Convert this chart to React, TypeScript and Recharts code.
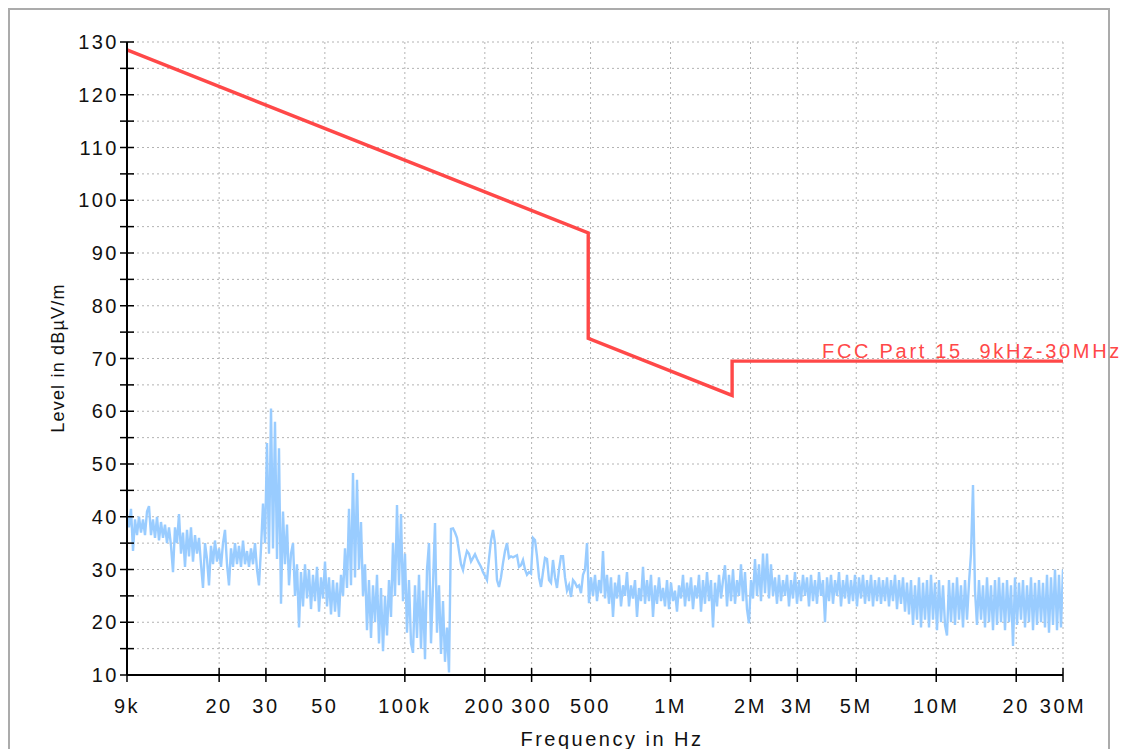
import React from "react";
import { LineChart, Line, XAxis, YAxis, CartesianGrid } from "recharts";

// Receiver sweep, 9 kHz .. 30 MHz, log-spaced steps
const sweepStart = 9000;
const sweepStop = 30000000;

// Measured level in dBµV/m, one reading per sweep step
const levels = [
  40.5, 38, 41.5, 33.5, 39.5, 36.5, 40, 37, 39.5, 36.5, 41, 42, 36.5, 39.5, 36, 40, 35.5, 39, 36, 38.5,
  35, 38, 34.5, 29.5, 38, 35, 40.5, 33, 37, 30.5, 37.5, 32.5, 38, 31.5, 36.5, 33, 36, 31, 26.5, 35,
  32, 27, 34.5, 31, 35.5, 31.5, 34, 30.5, 35, 37.5, 31, 27, 34, 30.5, 35, 31, 34.5, 30.5, 35.5, 31,
  33.5, 30.5, 34, 31, 35, 30, 27, 34, 42.5, 35, 54, 33, 60.5, 34, 58, 32, 53, 23.5, 41, 31,
  38.5, 27, 33, 35, 25, 31, 19, 29.5, 23, 31, 24.5, 30, 22.5, 29, 24, 30.5, 22, 28.5, 24.5, 31.5,
  23, 28.5, 21.5, 28, 22, 27.5, 21, 29, 25, 34, 26.5, 41.5, 27, 48.3, 28.5, 47, 30, 39, 25, 31,
  18.5, 28, 17, 27, 20, 29, 16, 26.5, 14.5, 25, 17.5, 28, 21, 35, 25, 42.2, 27, 40.5, 24, 33,
  18, 28, 16, 14.2, 27, 17, 29, 15, 26, 13, 30, 35, 16, 27, 38.8, 18, 27, 14, 24, 12.5,
  19, 10.5, 37.7, 37.8, 37, 36, 33.5, 31, 29.9, 32, 33.5, 33, 31.5, 32.2, 32.9, 32, 31.2, 30.5, 29.5, 28.8,
  28, 32, 35.5, 37.5, 35, 28, 26.7, 28.5, 31.2, 33.5, 35, 32.2, 32.5, 32.3, 32.5, 32.7, 30.5, 30.8, 31.8, 30,
  29, 29.5, 29.2, 36, 35.6, 32.5, 28.5, 26.7, 29.5, 32.2, 32, 28, 27.5, 31.8, 28.5, 26.5, 30, 32.5, 32.5, 28.5,
  26, 27, 24.8, 28, 27.5, 26.7, 27, 25.5, 29, 30, 35, 23.6, 28.5, 25, 29, 24, 28, 25.5, 33.5, 24.5,
  29, 23.5, 28.5, 21, 27.5, 24.5, 29, 23, 27, 25, 29.5, 23, 27, 24.5, 28, 21, 26.5, 24, 30.5, 23.5,
  28, 24, 29, 21, 27, 23.5, 28.5, 24, 26.5, 23, 28, 22.5, 27.5, 24, 26, 22, 27, 24.5, 29, 23,
  27.5, 24, 28.5, 22.5, 27, 24.5, 29, 22, 28, 23.5, 29.5, 24, 28, 19, 27.5, 23, 29, 24.5, 28, 30.8,
  23, 29, 24, 30, 23.5, 28, 25, 31, 24, 29.5, 22.5, 19.8, 28, 24.5, 32, 25, 31, 24, 33, 25.5,
  33, 24.5, 31, 25, 28.5, 23.5, 29, 24, 28, 25, 29, 23, 28, 24.5, 29.5, 23.5, 28, 24, 29, 25,
  28.5, 23, 29, 24, 28, 23.5, 29.5, 25, 28, 20, 28.5, 24, 29, 23.5, 28, 25, 29.5, 23, 28, 24.5,
  29, 23.5, 28, 24, 29, 23, 28.5, 24.5, 29, 23.5, 28, 24, 29, 23, 28, 24, 28.5, 23.5, 28, 24,
  28.5, 23, 28, 24, 29, 22.5, 28, 23.5, 28.5, 22, 27.5, 21.5, 28, 19.5, 27, 20.5, 28.5, 19, 27.5, 20.5,
  28, 19, 29, 20.5, 27.5, 18.5, 28, 20, 27, 19.5, 17.5, 28, 20, 27.5, 19.5, 28.5, 20.5, 27, 19, 28,
  20.5, 27.5, 33, 46, 26, 19.5, 28, 20.5, 27, 19, 28.5, 20, 27, 18.5, 28, 19.5, 28.5, 20, 27.5, 18.5,
  28, 20, 27, 15.5, 28.5, 19.5, 27.5, 20.5, 28, 19, 27, 20, 28.5, 18.5, 27.5, 19.5, 28, 20, 27.5, 19,
  29, 18, 28.5, 19.5, 30, 18.5, 29, 19, 30,
];

// FCC Part 15 limit (converted to 3 m), Hz / dBµV/m
const limitFreqs = [9000, 490000, 490000, 1705000, 1705000, 30000000];
const limitLevels = [128.5, 93.8, 73.8, 63.0, 69.5, 69.5];
const limitName = "FCC Part 15  9kHz-30MHz";

const xTicks = [9000, 20000, 30000, 50000, 100000, 200000, 300000, 500000, 1000000, 2000000, 3000000, 5000000, 10000000, 20000000, 30000000];
const xTickLabels = ["9k", "20", "30", "50", "100k", "200", "300", "500", "1M", "2M", "3M", "5M", "10M", "20", "30M"];
const yTicks = [10, 15, 20, 25, 30, 35, 40, 45, 50, 55, 60, 65, 70, 75, 80, 85, 90, 95, 100, 105, 110, 115, 120, 125, 130];

const sweep = levels.map((v, i) => ({
  f: sweepStart * Math.pow(sweepStop / sweepStart, i / (levels.length - 1)),
  v,
}));
const limit = limitFreqs.map((f, i) => ({ f, v: limitLevels[i] }));

const font = '"Liberation Sans", Arial, sans-serif';
const limitColor = "#ff4848";
const traceColor = "#99ccff";

const XTick = (props: any) => {
  const { x, y, payload } = props;
  const label = xTickLabels[xTicks.indexOf(payload.value)];
  return (
    <g>
      <line x1={x} x2={x} y1={y - 7} y2={y + 7} stroke="#000" strokeWidth={1.5} />
      <text x={x} y={y + 38} textAnchor="middle" fontSize={20} fill="#111" fontFamily={font} style={{ letterSpacing: "2.5px" }}>
        {label}
      </text>
    </g>
  );
};

const YTick = (props: any) => {
  const { x, y, payload } = props;
  const major = payload.value % 10 === 0;
  return (
    <g>
      <line x1={x - 7} x2={x + 7} y1={y} y2={y} stroke="#000" strokeWidth={1.5} />
      {major && (
        <text x={x - 8} y={y + 7} textAnchor="end" fontSize={20} fill="#111" fontFamily={font} style={{ letterSpacing: "2.5px" }}>
          {payload.value}
        </text>
      )}
    </g>
  );
};

const limitLabel = (p: any) => {
  if (p.index !== limit.length - 1) return <g />;
  return (
    <text x={p.x + 59} y={p.y - 3} textAnchor="end" fontSize={20} fill={limitColor} fontFamily={font} style={{ letterSpacing: "2.7px", whiteSpace: "pre" }}>
      {limitName}
    </text>
  );
};

export default function App() {
  return (
    <div style={{ position: "absolute", left: 0, top: 0, width: 1123, height: 749, overflow: "hidden", background: "#fff" }}>
      <div style={{ position: "absolute", left: 8, top: 8, width: 1102, height: 760, border: "2px solid #ababab", boxSizing: "border-box" }} />
      <LineChart width={1123} height={749} margin={{ top: 42, right: 60, bottom: 0, left: 0 }}>
        <CartesianGrid stroke="#b3b3b3" strokeDasharray="2 3" />
        <XAxis
          dataKey="f"
          type="number"
          scale="log"
          domain={[sweepStart, sweepStop]}
          allowDataOverflow
          ticks={xTicks}
          interval={0}
          height={74}
          tickSize={0}
          tickMargin={0}
          tickLine={false}
          tick={(p: any) => <XTick {...p} />}
          axisLine={{ stroke: "#000", strokeWidth: 2 }}
        />
        <YAxis
          type="number"
          domain={[10, 130]}
          allowDataOverflow
          ticks={yTicks}
          interval={0}
          width={127}
          tickSize={0}
          tickMargin={0}
          tickLine={false}
          tick={(p: any) => <YTick {...p} />}
          axisLine={{ stroke: "#000", strokeWidth: 2 }}
        />
        <Line data={sweep} dataKey="v" stroke={traceColor} strokeWidth={2.4} strokeLinejoin="miter" dot={false} isAnimationActive={false} />
        <Line data={limit} dataKey="v" stroke={limitColor} strokeWidth={3.4} dot={false} isAnimationActive={false} label={limitLabel} />
      </LineChart>
      <svg width={1123} height={749} style={{ position: "absolute", left: 0, top: 0, pointerEvents: "none" }}>
        <text transform="translate(64,358) rotate(-90)" textAnchor="middle" fontSize={18} fill="#111" fontFamily={font} style={{ letterSpacing: "1.2px" }}>
          Level in dBµV/m
        </text>
        <text x={612} y={746} textAnchor="middle" fontSize={20} fill="#111" fontFamily={font} style={{ letterSpacing: "2.5px" }}>
          Frequency in Hz
        </text>
      </svg>
    </div>
  );
}
